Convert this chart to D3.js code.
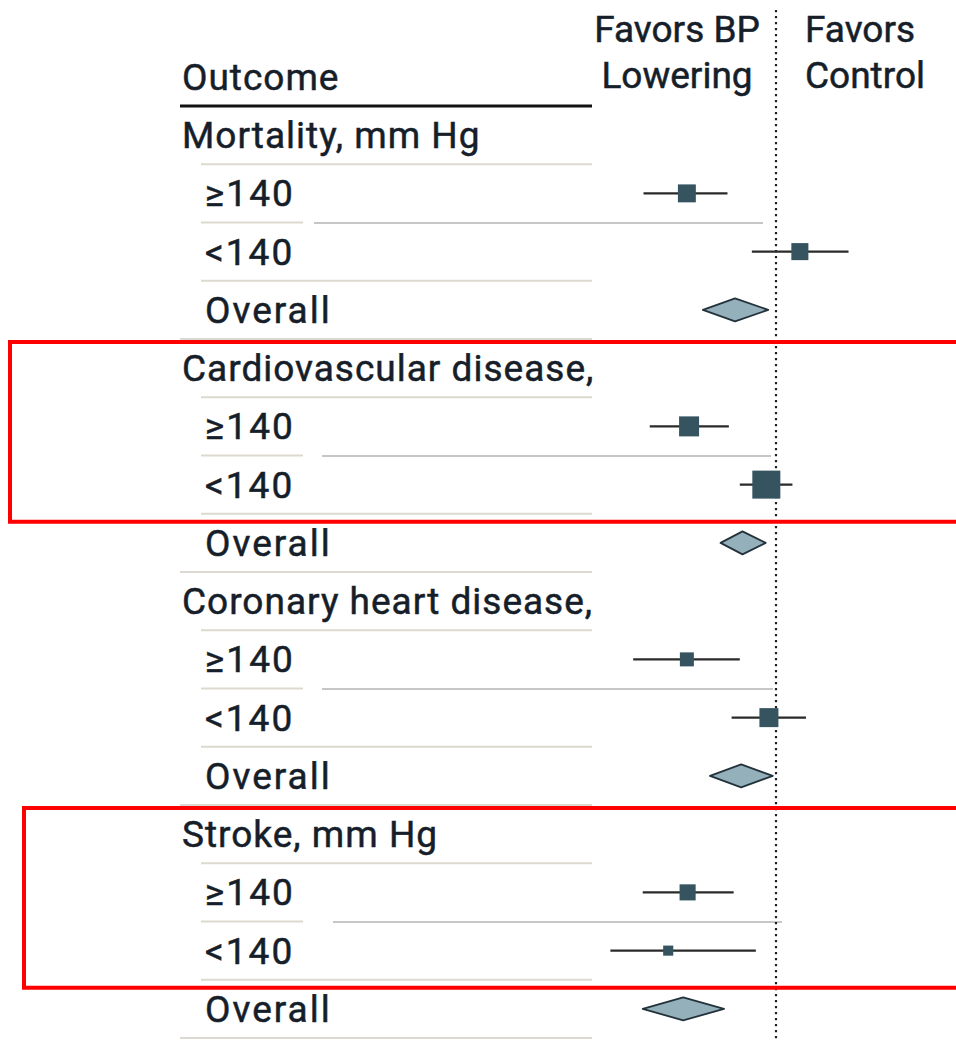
<!DOCTYPE html>
<html><head><meta charset="utf-8">
<script src="https://cdn.jsdelivr.net/npm/d3@7"></script>
<style>html,body{margin:0;padding:0;background:#fff;} svg{display:block;}</style>
</head><body>
<svg id="chart" width="956" height="1041"></svg>
<script>
// ---------- data ----------
const outcomes = ["Mortality, mm Hg", "Cardiovascular disease,", "Coronary heart disease,", "Stroke, mm Hg"];
const strata = ["≥140", "<140"];
const overallLabel = "Overall";

// relative risk estimates
const estHigh = [0.870, 0.873, 0.870, 0.871];
const loHigh  = [0.813, 0.821, 0.800, 0.812];
const hiHigh  = [0.927, 0.929, 0.945, 0.936];
const wHigh   = [41, 51, 25, 33];

const estLow  = [1.038, 0.985, 0.989, 0.845];
const loLow   = [0.963, 0.945, 0.933, 0.772];
const hiLow   = [1.120, 1.026, 1.048, 0.969];
const wLow    = [37, 100, 46, 13];

const estAll  = [0.938, 0.949, 0.947, 0.865];
const loAll   = [0.892, 0.917, 0.902, 0.812];
const hiAll   = [0.988, 0.984, 0.995, 0.922];

const headerLeft = ["Favors BP", "Lowering"];
const headerRight = ["Favors", "Control"];
const columnTitle = "Outcome";
const highlightedGroups = [1, 3];

// ---------- layout ----------
const W = 956, H = 1041;
const font = "Roboto, 'Noto Sans', sans-serif";
const fs = 37;
const ink = "#161e2a";
const nullX = 776;
const connStart = [314, 322, 322, 333];
const connEnd = [763, 771, 773, 782];
const boxLeft = [10, 24];

const svg = d3.select("#chart");

const rows = [];
outcomes.forEach((o, g) => {
  rows.push({type: "header", label: o, g});
  rows.push({type: "study", s: 0, label: strata[0], g, est: estHigh[g], lo: loHigh[g], hi: hiHigh[g], w: wHigh[g]});
  rows.push({type: "study", s: 1, label: strata[1], g, est: estLow[g], lo: loLow[g], hi: hiLow[g], w: wLow[g]});
  rows.push({type: "overall", label: overallLabel, g, est: estAll[g], lo: loAll[g], hi: hiAll[g]});
});

const y = d3.scaleBand().domain(d3.range(rows.length)).range([106, 1038]);
const bw = y.bandwidth();
const x = d3.scaleLog().domain([0.5, 2]).range([nullX - 640 * Math.LN2, nullX + 640 * Math.LN2]);
const size = d3.scaleSqrt().domain([0, 100]).range([0, 28]);

// separators
const sep = svg.append("g");
rows.forEach((r, i) => {
  const yb = y(i) + bw;
  let x0 = 201, x1 = 592;
  if (r.type === "overall") x0 = 180;
  if (r.type === "study" && r.s === 0) x1 = 303;
  sep.append("line").attr("x1", x0).attr("x2", x1).attr("y1", yb).attr("y2", yb)
    .attr("stroke", "#dcd9d0").attr("stroke-width", 2.2);
  if (r.type === "study" && r.s === 0) {
    sep.append("line").attr("x1", connStart[r.g]).attr("x2", connEnd[r.g]).attr("y1", yb + 0.5).attr("y2", yb + 0.5)
      .attr("stroke", "#b4b4b4").attr("stroke-width", 1.6);
  }
});

// thick line under column title
svg.append("line").attr("x1", 180).attr("x2", 592).attr("y1", 106).attr("y2", 106)
  .attr("stroke", "#111").attr("stroke-width", 3.2);

// null line
svg.append("line").attr("x1", x(1)).attr("x2", x(1)).attr("y1", 10).attr("y2", H)
  .attr("stroke", "#222").attr("stroke-width", 2.2).attr("stroke-dasharray", "2.2,3.8");

// text
const txt = (s, xx, yy, anchor, ls) => svg.append("text").text(s).attr("x", xx).attr("y", yy)
  .attr("font-family", font).attr("font-size", fs).attr("font-weight", 400)
  .attr("letter-spacing", ls == null ? 1.0 : ls).attr("fill", ink)
  .attr("stroke", ink).attr("stroke-width", 0.5)
  .attr("text-anchor", anchor || "start");

txt(columnTitle, 182, 90);
txt(headerLeft[0], 677, 42, "middle", 0);
txt(headerLeft[1], 677, 88, "middle", 0);
txt(headerRight[0], 805, 42, "start", 0);
txt(headerRight[1], 805, 88, "start", 0);

rows.forEach((r, i) => {
  const cy = y(i) + bw / 2;
  if (r.type === "header") txt(r.label, 182, cy + 13, "start", 1.0);
  else txt(r.label, 205, cy + 13, "start", 2.0);
});

// marks
const marks = svg.append("g");
rows.forEach((r, i) => {
  const cy = y(i) + bw / 2;
  if (r.type === "study") {
    marks.append("line").attr("x1", x(r.lo)).attr("x2", x(r.hi)).attr("y1", cy).attr("y2", cy)
      .attr("stroke", "#2a2a2a").attr("stroke-width", 2.2);
    const s = size(r.w);
    marks.append("rect").attr("x", x(r.est) - s / 2).attr("y", cy - s / 2).attr("width", s).attr("height", s)
      .attr("fill", "#35545f");
  } else if (r.type === "overall") {
    const h = 11.5;
    const pts = [[x(r.lo), cy], [x(r.est), cy - h], [x(r.hi), cy], [x(r.est), cy + h]];
    marks.append("path").attr("d", d3.line()(pts) + "Z")
      .attr("fill", "#93b0bb").attr("stroke", "#23323a").attr("stroke-width", 1.8).attr("stroke-linejoin", "round");
  }
});

// highlight boxes
highlightedGroups.forEach((g, k) => {
  const top = y(g * 4) + 3;
  const bottom = y(g * 4 + 2) + bw + 8;
  svg.append("rect").attr("x", boxLeft[k]).attr("y", top).attr("width", W + 20 - boxLeft[k]).attr("height", bottom - top)
    .attr("fill", "none").attr("stroke", "#ff0000").attr("stroke-width", 4);
});
</script>
</body></html>
